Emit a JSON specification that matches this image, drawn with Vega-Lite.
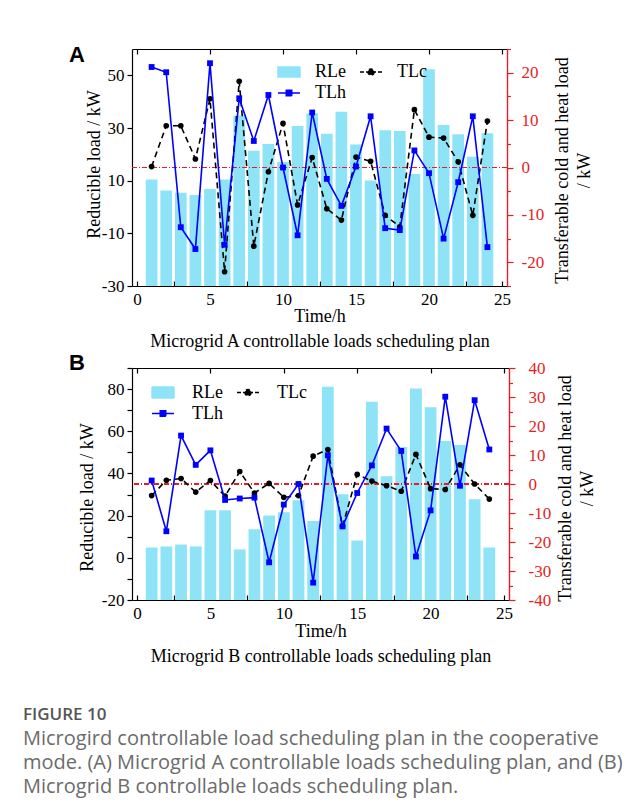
{
  "$schema": "https://vega.github.io/schema/vega-lite/v6.json",
  "background": "white",
  "padding": {"left": 23, "top": 44, "right": 5, "bottom": 5},
  "bounds": "flush",
  "spacing": 82,
  "datasets": {
    "a": [
      {"h": 1, "RLe": 10.4, "TLc": 0.2, "TLh": 21.2},
      {"h": 2, "RLe": 6.3, "TLc": 8.8, "TLh": 20.1},
      {"h": 3, "RLe": 5.4, "TLc": 8.8, "TLh": -12.6},
      {"h": 4, "RLe": 4.6, "TLc": 1.8, "TLh": -17.2},
      {"h": 5, "RLe": 6.8, "TLc": 14.5, "TLh": 22.0},
      {"h": 6, "RLe": 10.4, "TLc": -22.0, "TLh": -16.3},
      {"h": 7, "RLe": 34.7, "TLc": 18.2, "TLh": 14.6},
      {"h": 8, "RLe": 21.4, "TLc": -16.6, "TLh": 5.6},
      {"h": 9, "RLe": 23.9, "TLc": -0.9, "TLh": 15.3},
      {"h": 10, "RLe": 17.1, "TLc": 9.3, "TLh": 0.0},
      {"h": 11, "RLe": 30.8, "TLc": -7.9, "TLh": -14.3},
      {"h": 12, "RLe": 35.6, "TLc": 2.1, "TLh": 11.6},
      {"h": 13, "RLe": 27.8, "TLc": -8.7, "TLh": -2.4},
      {"h": 14, "RLe": 36.2, "TLc": -11.1, "TLh": -8.1},
      {"h": 15, "RLe": 23.7, "TLc": 2.2, "TLh": 0.2},
      {"h": 16, "RLe": 10.1, "TLc": 1.3, "TLh": 10.8},
      {"h": 17, "RLe": 29.1, "TLc": -10.1, "TLh": -12.8},
      {"h": 18, "RLe": 28.9, "TLc": -12.5, "TLh": -13.2},
      {"h": 19, "RLe": 12.5, "TLc": 12.2, "TLh": 3.6},
      {"h": 20, "RLe": 52.3, "TLc": 6.4, "TLh": -1.2},
      {"h": 21, "RLe": 31.1, "TLc": 6.2, "TLh": -15.0},
      {"h": 22, "RLe": 27.6, "TLc": 1.2, "TLh": -3.1},
      {"h": 23, "RLe": 19.1, "TLc": -10.1, "TLh": 10.8},
      {"h": 24, "RLe": 28.0, "TLc": 9.8, "TLh": -16.8}
    ],
    "b": [
      {"h": 1, "RLe": 4.9, "TLc": -4.0, "TLh": 1.2},
      {"h": 2, "RLe": 5.4, "TLc": 1.3, "TLh": -16.3},
      {"h": 3, "RLe": 6.3, "TLc": 1.9, "TLh": 16.7},
      {"h": 4, "RLe": 5.4, "TLc": -2.8, "TLh": 6.6},
      {"h": 5, "RLe": 22.5, "TLc": 1.2, "TLh": 11.6},
      {"h": 6, "RLe": 22.5, "TLc": -4.2, "TLh": -5.5},
      {"h": 7, "RLe": 4.0, "TLc": 4.3, "TLh": -5.0},
      {"h": 8, "RLe": 13.5, "TLc": -3.1, "TLh": -4.7},
      {"h": 9, "RLe": 20.1, "TLc": 0.2, "TLh": -27.0},
      {"h": 10, "RLe": 21.6, "TLc": -4.6, "TLh": -7.1},
      {"h": 11, "RLe": 27.3, "TLc": -4.0, "TLh": 0.0},
      {"h": 12, "RLe": 17.4, "TLc": 9.6, "TLh": -34.0},
      {"h": 13, "RLe": 81.1, "TLc": 11.9, "TLh": 9.9},
      {"h": 14, "RLe": 30.1, "TLc": -14.6, "TLh": -14.6},
      {"h": 15, "RLe": 8.2, "TLc": 3.3, "TLh": -3.1},
      {"h": 16, "RLe": 74.0, "TLc": 1.0, "TLh": 6.4},
      {"h": 17, "RLe": 38.7, "TLc": -0.6, "TLh": 19.1},
      {"h": 18, "RLe": 52.5, "TLc": -2.5, "TLh": 11.4},
      {"h": 19, "RLe": 80.3, "TLc": 10.2, "TLh": -25.0},
      {"h": 20, "RLe": 71.4, "TLc": -1.6, "TLh": -9.1},
      {"h": 21, "RLe": 55.4, "TLc": -1.9, "TLh": 30.1},
      {"h": 22, "RLe": 53.5, "TLc": 6.6, "TLh": -0.6},
      {"h": 23, "RLe": 27.8, "TLc": 0.0, "TLh": 28.9},
      {"h": 24, "RLe": 4.9, "TLc": -5.2, "TLh": 11.9}
    ]
  },
  "title": {
    "text": "FIGURE 10",
    "subtitle": [
      "Microgird controllable load scheduling plan in the cooperative",
      "mode. (A) Microgrid A controllable loads scheduling plan, and (B)",
      "Microgrid B controllable loads scheduling plan."
    ],
    "orient": "bottom",
    "anchor": "start",
    "frame": "bounds",
    "offset": 42,
    "dx": -46,
    "font": "Open Sans",
    "fontSize": 17,
    "fontWeight": 600,
    "color": "#555555",
    "subtitleFont": "Open Sans",
    "subtitleFontSize": 20,
    "subtitleColor": "#6b6b6b",
    "subtitleLineHeight": 24,
    "subtitlePadding": 5
  },
  "resolve": {"scale": {"color": "independent"}},
  "vconcat": [
    {
      "width": 375,
      "height": 237,
      "data": {"name": "a"},
      "title": {"text": "A", "anchor": "start", "frame": "group", "orient": "top", "font": "Liberation Sans", "fontSize": 22, "fontWeight": "bold", "color": "black", "dx": -63, "offset": -19},
      "resolve": {"scale": {"y": "independent"}, "axis": {"x": "independent"}},
      "layer": [
        {
          "mark": {"type": "bar", "width": 11.7},
          "encoding": {
            "x": {"field": "h", "type": "quantitative", "scale": {"domain": [0, 25], "nice": false},
              "axis": {"orient": "bottom", "values": [0, 2.5, 5, 7.5, 10, 12.5, 15, 17.5, 20, 22.5, 25], "labelExpr": "datum.value % 5 === 0 ? '' + datum.value : ''", "tickSize": -5, "labelPadding": 10, "title": ["Time/h", "Microgrid A controllable loads scheduling plan"], "titleLineHeight": 25, "titlePadding": 0}},
            "y": {"field": "RLe", "type": "quantitative", "scale": {"domain": [-30, 60], "nice": false, "zero": false},
              "axis": {"orient": "left", "values": [-30, -10, 10, 30, 50], "labelExpr": "'' + datum.value", "tickSize": 5, "labelPadding": 3, "title": "Reducible load / kW", "titlePadding": -2, "titleY": 115}},
            "y2": {"datum": -30},
            "color": {"datum": "RLe", "scale": {"domain": ["RLe", "TLc", "TLh"], "range": ["#8fe3f7", "black", "#0000ff"]},
              "legend": {"orient": "none", "legendX": 145, "legendY": 11, "direction": "horizontal", "columns": 2, "title": null, "labelOffset": 14, "columnPadding": 11, "rowPadding": 0, "padding": 0, "symbolSize": 484,
                "encode": {"symbols": {"update": {
                  "shape": {"signal": "datum.value === 'RLe' ? 'M-1,-0.45H1V0.45H-1Z' : (datum.value === 'TLc' ? 'M-1,0H1M0.28,0A0.28,0.28,0,1,1,-0.28,0A0.28,0.28,0,1,1,0.28,0Z' : 'M-1,0H1M-0.25,-0.25H0.25V0.25H-0.25Z')"},
                  "fill": {"signal": "datum.value === 'RLe' ? '#8fe3f7' : (datum.value === 'TLc' ? 'black' : '#0000ff')"},
                  "stroke": {"signal": "datum.value === 'RLe' ? 'transparent' : (datum.value === 'TLc' ? 'black' : '#0000ff')"},
                  "strokeDash": {"signal": "datum.value === 'TLc' ? [4, 2] : [1, 0]"},
                  "strokeWidth": {"value": 1.5},
                  "size": {"value": 484},
                  "opacity": {"value": 1}
                }}}}}
          }
        },
        {
          "resolve": {"axis": {"y": "independent"}},
          "layer": [
            {
              "mark": {"type": "rule", "color": "#e41e26", "strokeDash": [5, 2, 1, 2], "strokeWidth": 1},
              "encoding": {"y": {"datum": 0, "type": "quantitative", "axis": null}}
            },
            {
              "mark": {"type": "line", "strokeDash": [6, 4], "strokeWidth": 1.6, "point": {"filled": true, "size": 32, "shape": "circle"}},
              "encoding": {
                "x": {"field": "h", "type": "quantitative", "axis": {"orient": "top", "values": [0, 2.5, 5, 7.5, 10, 12.5, 15, 17.5, 20, 22.5, 25], "labels": false, "tickSize": -5, "title": null}},
                "y": {"field": "TLc", "type": "quantitative", "scale": {"domain": [-25, 25], "nice": false},
                  "axis": {"orient": "right", "values": [-20, -10, 0, 10, 20], "labelExpr": "'' + datum.value", "tickSize": 6, "labelPadding": 8, "domainColor": "#e41e26", "tickColor": "#e41e26", "labelColor": "#e41e26", "title": ["Transferable cold and heat load", "/ kW"], "titleAngle": -90, "titleBaseline": "top", "titleLineHeight": 22, "titlePadding": -12, "titleY": 121}},
                "color": {"datum": "TLc"}
              }
            },
            {
              "mark": {"type": "line", "strokeWidth": 1.6, "point": {"filled": true, "size": 34, "shape": "square"}},
              "encoding": {
                "x": {"field": "h", "type": "quantitative"},
                "y": {"field": "TLh", "type": "quantitative",
                  "axis": {"orient": "right", "values": [-25, -15, -5, 5, 15, 25], "labels": false, "tickSize": 3.5, "domainColor": "#e41e26", "tickColor": "#e41e26", "title": null}},
                "color": {"datum": "TLh"}
              }
            }
          ]
        }
      ]
    },
    {
      "width": 377,
      "height": 232,
      "data": {"name": "b"},
      "title": {"text": "B", "anchor": "start", "frame": "group", "orient": "top", "font": "Liberation Sans", "fontSize": 22, "fontWeight": "bold", "color": "black", "dx": -63, "offset": -16},
      "resolve": {"scale": {"y": "independent"}, "axis": {"x": "independent"}},
      "layer": [
        {
          "mark": {"type": "bar", "width": 11.8},
          "encoding": {
            "x": {"field": "h", "type": "quantitative", "scale": {"domain": [0, 25], "nice": false},
              "axis": {"orient": "bottom", "values": [0, 2.5, 5, 7.5, 10, 12.5, 15, 17.5, 20, 22.5, 25], "labelExpr": "datum.value % 5 === 0 ? '' + datum.value : ''", "tickSize": -5, "labelPadding": 10, "title": ["Time/h", "Microgrid B controllable loads scheduling plan"], "titleLineHeight": 25, "titlePadding": 1}},
            "y": {"field": "RLe", "type": "quantitative", "scale": {"domain": [-20, 90], "nice": false, "zero": false},
              "axis": {"orient": "left", "values": [-20, -10, 0, 10, 20, 30, 40, 50, 60, 70, 80, 90], "labelExpr": "datum.value % 20 === 0 ? '' + datum.value : ''", "tickSize": 5, "labelPadding": 3, "title": "Reducible load / kW", "titlePadding": 5, "titleY": 129}},
            "y2": {"datum": -20},
            "color": {"datum": "RLe", "scale": {"domain": ["RLe", "TLc", "TLh"], "range": ["#8fe3f7", "black", "#0000ff"]},
              "legend": {"orient": "none", "legendX": 19, "legendY": 12.5, "direction": "horizontal", "columns": 2, "title": null, "labelOffset": 17, "columnPadding": 11, "rowPadding": 0, "padding": 0, "symbolSize": 484,
                "encode": {"symbols": {"update": {
                  "shape": {"signal": "datum.value === 'RLe' ? 'M-1,-0.5H1V0.5H-1Z' : (datum.value === 'TLc' ? 'M-1,0H1M0.28,0A0.28,0.28,0,1,1,-0.28,0A0.28,0.28,0,1,1,0.28,0Z' : 'M-1,0H1M-0.25,-0.25H0.25V0.25H-0.25Z')"},
                  "fill": {"signal": "datum.value === 'RLe' ? '#8fe3f7' : (datum.value === 'TLc' ? 'black' : '#0000ff')"},
                  "stroke": {"signal": "datum.value === 'RLe' ? 'transparent' : (datum.value === 'TLc' ? 'black' : '#0000ff')"},
                  "strokeDash": {"signal": "datum.value === 'TLc' ? [4, 2] : [1, 0]"},
                  "strokeWidth": {"value": 1.5},
                  "size": {"value": 484},
                  "opacity": {"value": 1}
                }}}}}
          }
        },
        {
          "resolve": {"axis": {"y": "independent"}},
          "layer": [
            {
              "mark": {"type": "rule", "color": "#e41e26", "strokeDash": [5, 2, 1, 2], "strokeWidth": 1},
              "encoding": {"y": {"datum": 0, "type": "quantitative", "axis": null}}
            },
            {
              "mark": {"type": "line", "strokeDash": [6, 4], "strokeWidth": 1.6, "point": {"filled": true, "size": 32, "shape": "circle"}},
              "encoding": {
                "x": {"field": "h", "type": "quantitative", "axis": {"orient": "top", "values": [0, 2.5, 5, 7.5, 10, 12.5, 15, 17.5, 20, 22.5, 25], "labels": false, "tickSize": -5, "title": null}},
                "y": {"field": "TLc", "type": "quantitative", "scale": {"domain": [-40, 40], "nice": false},
                  "axis": {"orient": "right", "values": [-40, -30, -20, -10, 0, 10, 20, 30, 40], "labelExpr": "'' + datum.value", "tickSize": 6, "labelPadding": 13, "domainColor": "#e41e26", "tickColor": "#e41e26", "labelColor": "#e41e26", "title": ["Transferable cold and heat load", "/ kW"], "titleAngle": -90, "titleBaseline": "top", "titleLineHeight": 22, "titlePadding": -16, "titleY": 120}},
                "color": {"datum": "TLc"}
              }
            },
            {
              "mark": {"type": "line", "strokeWidth": 1.6, "point": {"filled": true, "size": 34, "shape": "square"}},
              "encoding": {
                "x": {"field": "h", "type": "quantitative"},
                "y": {"field": "TLh", "type": "quantitative",
                  "axis": {"orient": "right", "values": [-35, -25, -15, -5, 5, 15, 25, 35], "labels": false, "tickSize": 3.5, "domainColor": "#e41e26", "tickColor": "#e41e26", "title": null}},
                "color": {"datum": "TLh"}
              }
            }
          ]
        }
      ]
    }
  ],
  "config": {
    "view": {"stroke": null},
    "font": "Liberation Serif",
    "axis": {"labelFont": "Liberation Serif", "labelFontSize": 17, "titleFont": "Liberation Serif", "titleFontSize": 18, "titleFontWeight": "normal", "labelColor": "black", "titleColor": "black", "domainColor": "black", "tickColor": "black", "grid": false, "domainWidth": 1.2, "tickWidth": 1.2, "labelFlush": false, "labelOverlap": false, "labelBound": false},
    "legend": {"labelFont": "Liberation Serif", "labelFontSize": 18, "labelColor": "black"}
  }
}
